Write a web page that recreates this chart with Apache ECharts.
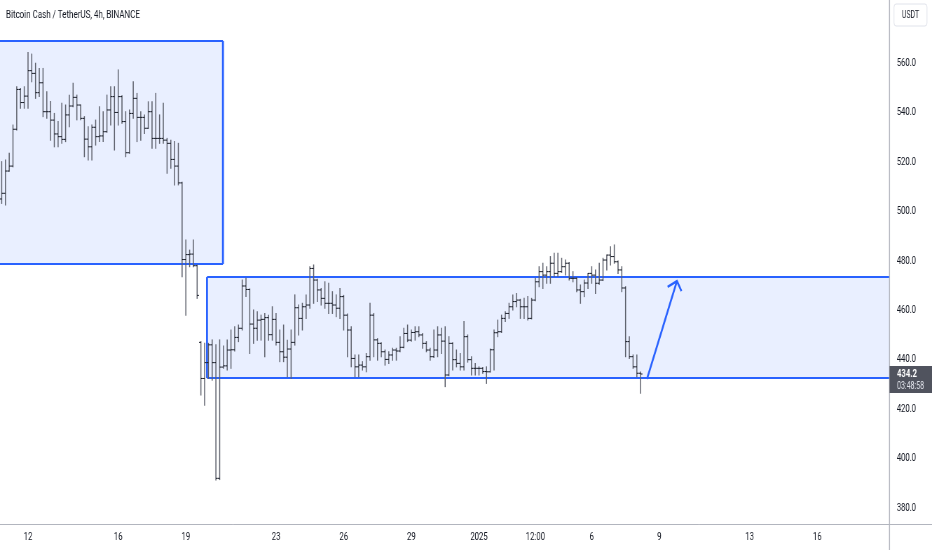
<!DOCTYPE html>
<html>
<head>
<meta charset="utf-8">
<script src="https://cdn.jsdelivr.net/npm/echarts@6/dist/echarts.min.js"></script>
<style>
html,body{margin:0;padding:0;overflow:hidden;background:#fff;width:932px;height:550px}
#wrap{width:932px;height:550px;overflow:hidden;position:relative}
#chart{width:1330px;height:550px;position:absolute;left:0;top:0;transform-origin:0 0;transform:scaleX(0.700752)}
</style>
</head>
<body>
<div id="wrap"><div id="chart"></div></div>
<script>
// ---------- data ----------
const title = 'Bitcoin Cash / TetherUS, 4h, BINANCE';
const quoteCurrency = 'USDT';
const countdown = '03:48:58';
// first bar opens 2024-12-10 20:00; x values are hours relative to 2024-12-12 00:00
const startHour = -28;
const barHours = 4;

const opens = [505,507.3,516.3,518.3,533.2,549.3,544,546.6,556.9,555.8,
548,552,540.3,540.3,536.9,531.3,530.2,529.1,539,542.6,
546.1,543,537.6,529.2,526.1,534,530.2,530.5,532.2,541,
546.4,540,546.4,536.3,523.7,539.6,545.7,538,538,533.6,
540.3,529.5,529.5,529.5,528.8,527.5,521,518.3,511.5,480.5,
482.5,482.7,478,447,432.4,438.8,446,438.8,392,437,
437.5,443.9,444,449,452.7,469.8,468.4,454.4,452.7,456,
456.3,457,450.1,456.3,447,443.2,441,444.3,447,461,
456.7,461.4,462.1,476.9,472.2,468.2,464.8,462.8,462.8,462.1,
460.8,465.5,458,452,440.5,437.1,437.8,437.1,441.2,458,
448,446.6,443.2,440.1,441.9,443.9,443.5,445,450.6,447.9,
451,451.3,450,446.6,443.9,441.2,443.9,450,447.5,433.8,
446.6,440,438.5,437.1,449.3,440,436.5,436.5,436.5,435.2,
435.1,444,450.9,451.3,456.7,458.7,461.4,463.5,464.1,461.4,
461.4,456.7,464.1,471.5,475.6,474.2,475.6,479,474.9,475.6,
477.6,479,472.9,472.9,468.2,467.5,471,474.9,474.2,470.9,
472.2,480.3,482.3,481.7,479.6,476.3,469,447.3,441.2,437.1,
434.5];
const highs = [520.1,520.8,523.5,534.9,550.4,549.7,550.4,564.2,563.6,559.9,
557.8,557.8,548.4,544.4,539.6,536.3,543.7,543,547,551.8,
547,543,538.3,534.2,534.9,536.9,542.3,540.3,547,550.4,
550.4,557.2,546.8,540.3,541,552.4,547.7,540.3,539,544.3,
544.3,547.7,539,543.7,529.5,528.8,528.2,527.5,511.8,488.4,
484.3,488.4,478.3,447.3,446.6,446.6,448,446,448,445.5,
448,452,453.3,454,472.2,472.9,468.6,460.1,459.4,458,
458.7,458,461.4,458.7,452,454,447.9,452,466.2,462.1,
462.8,466.2,477.6,478.3,472.5,468.8,471.5,470.9,467.5,466.2,
468.8,466,458.5,453.3,441.9,441.9,439.2,442.5,462.8,458.7,
448.5,446.8,443.9,443.2,444.6,444.6,449.3,452.7,454,452,
453.3,453.3,450.6,447.3,444.6,452,453.3,452.7,453.3,449.3,
446.8,443.9,442.5,455.4,450,441.2,438.5,437.1,436.8,437.1,
444.3,452,456,458,459.4,462.8,466.2,466.8,464.4,464.8,
465.5,464.8,472.9,477.6,479,477.6,481.7,483,483,481,
480.3,479.3,475.6,473.2,470.2,472.2,474.9,477.6,476.3,479,
481,482.3,485.7,486.4,479.9,477.6,469.5,449.3,441.9,441.9,
435];
const lows = [503.2,502.6,516.2,518,532.9,541.7,541.7,541.7,552.4,545.7,
546.4,538.3,537.6,528.8,526.1,526.1,527.5,528.2,534.2,542.3,
537,537,522.1,520.8,520.8,526.8,528.2,528.2,532,534.9,
524.8,534.9,535.6,522.1,523.5,537.6,528.2,528.8,531.5,533.5,
525.5,525.5,527.5,527.5,515.4,517.4,510.7,510.7,473.5,458,
477.6,477.6,464.8,425.7,421.6,432.4,431.7,391.3,391.5,436.5,
435.8,436.5,443.5,447.3,452,465.5,442.5,446.6,447.9,447.9,
441.2,447.9,447.9,445.9,439.2,439.2,433.1,432.4,445.9,450,
452,456.7,460.8,462.8,463.5,462.1,460.8,458.7,458.7,457.4,
456.7,452,441.2,437.1,433.1,433.1,435.8,435.1,439.8,441.2,
439.8,441.2,437.8,438.5,439.8,439.8,443.2,444.8,447.3,447.5,
447.9,449.3,444.6,443.2,439.8,440.9,441.2,442.5,429.1,433.5,
435.8,437.1,435.8,435.8,439,433.8,433.8,433.8,434.5,430.4,
435,435.8,449.3,451,455.4,456.7,460.1,461.4,456.7,456.7,
456,456.5,463.8,469.5,468.8,470.9,470.9,473.6,473.6,475.3,
474.2,472.2,471.5,467.5,462.8,465.5,468.8,470.9,466.8,470.5,
472,476.3,478.3,479,474.9,467.5,441.2,440.5,436.5,433.1,
426.4];
const closes = [507.3,516.3,518.3,533.2,549.3,544,546.6,556.9,555.8,548,
552,540.3,540.3,536.9,531.3,530.2,529.1,539,542.6,546.1,
543,537.6,529.2,526.1,534,530.2,530.5,532.2,541,546.4,
540,546.4,536.3,523.7,539.6,545.7,538,538,533.6,540.3,
529.5,529.5,529.5,528.8,527.5,521,518.3,511.5,480.5,482.5,
482.7,478,466,432.4,438.8,446,438.8,392,437,437.5,
443.9,444,449,452.7,469.8,468.4,454.4,452.7,456,456.3,
457,450.1,456.3,447,443.2,441,444.3,447,461,456.7,
461.4,462.1,476.9,472.2,468.2,464.8,462.8,462.8,462.1,460.8,
465.5,458,452,440.5,437.1,437.8,437.1,441.2,458,448,
446.6,443.2,440.1,441.9,443.9,443.5,445,450.6,447.9,451,
451.3,450,446.6,443.9,441.2,443.9,450,447.5,433.8,446.6,
440,438.5,437.1,449.3,440,436.5,436.5,436.5,435.2,435.1,
444,450.9,451.3,456.7,458.7,461.4,463.5,464.1,461.4,461.4,
456.7,464.1,471.5,475.6,474.2,475.6,479,474.9,475.6,477.6,
479,472.9,472.9,468.2,467.5,471,474.9,474.2,470.9,472.2,
480.3,482.3,481.7,479.6,476.3,469,447.3,441.2,437.1,434.5,
434.2];

// x-axis ticks (hours from 2024-12-12 00:00) and their labels
const xTickHours = [0,96,168,264,336,408,480,540,600,672,768,840];
const xTickLabels = ['12','16','19','23','26','29','2025','12:00','6','9','13','16'];
// y-axis ticks
const yTicks = [380,400,420,440,460,480,500,520,540,560];

// drawn zones (rectangles): start/end in hours, top/bottom in price
const zoneStart  = [-80, 190.5];
const zoneEnd    = [207.5, 1100];
const zoneTop    = [568.9, 473.4];
const zoneBottom = [478.7, 432.6];
// projection arrow
const arrowFrom = [658.8, 432.2];
const arrowTo   = [690.7, 471.8];

// ---------- view ----------
const W = 1330, H = 550;
const SX = 932 / W;            // horizontal squeeze of the whole page
const X_MIN = -29.8, X_MAX = 916.4;
const Y_MIN = 373.53, Y_MAX = 585.48;
const FONT = 'Roboto, "Noto Sans", sans-serif';
const TEXT = '#131722';
const BAR_STEM = '#5d606b';
const BAR_TICK = '#131722';
const ZONE_FILL = 'rgba(41,98,255,0.10)';
const ZONE_LINE = '#2962ff';
const AXIS_LINE = '#b2b5be';

const chart = echarts.init(document.getElementById('chart'), null, {renderer:'canvas', width: W, height: H});

const ohlc = opens.map((o, i) => [startHour + barHours * i, o, highs[i], lows[i], closes[i]]);
const zones = zoneStart.map((s, i) => [s, zoneEnd[i], zoneTop[i], zoneBottom[i]]);

function renderBar(params, api) {
  const x = api.value(0);
  const po = api.coord([x, api.value(1)]);
  const ph = api.coord([x, api.value(2)]);
  const pl = api.coord([x, api.value(3)]);
  const pc = api.coord([x, api.value(4)]);
  const cx = ph[0];
  const w = 2.6;
  return {
    type: 'group',
    children: [
      {type: 'line', shape: {x1: cx, y1: ph[1] - 0.5, x2: cx, y2: pl[1] + 0.5}, style: {stroke: BAR_STEM, lineWidth: 1.5}},
      {type: 'line', shape: {x1: cx - w, y1: po[1], x2: cx, y2: po[1]}, style: {stroke: BAR_TICK, lineWidth: 1}},
      {type: 'line', shape: {x1: cx, y1: pc[1], x2: cx + w, y2: pc[1]}, style: {stroke: BAR_TICK, lineWidth: 1}}
    ]
  };
}

function renderZone(params, api) {
  const a = api.coord([api.value(0), api.value(2)]);
  const b = api.coord([api.value(1), api.value(3)]);
  const x0 = a[0], y0 = a[1], x1 = b[0], y1 = b[1];
  return {
    type: 'group',
    children: [
      {type: 'rect', shape: {x: x0, y: y0, width: x1 - x0, height: y1 - y0}, style: {fill: ZONE_FILL}},
      {type: 'line', shape: {x1: x0, y1: y0, x2: x1, y2: y0}, style: {stroke: ZONE_LINE, lineWidth: 2}},
      {type: 'line', shape: {x1: x0, y1: y1, x2: x1, y2: y1}, style: {stroke: ZONE_LINE, lineWidth: 2}},
      {type: 'line', shape: {x1: x0, y1: y0, x2: x0, y2: y1}, style: {stroke: ZONE_LINE, lineWidth: 2.8}},
      {type: 'line', shape: {x1: x1, y1: y0, x2: x1, y2: y1}, style: {stroke: ZONE_LINE, lineWidth: 2.8}}
    ]
  };
}

function renderArrow(params, api) {
  const p0 = api.coord([api.value(0), api.value(1)]);
  const p1 = api.coord([api.value(2), api.value(3)]);
  const ax = p0[0] * SX, ay = p0[1], bx = p1[0] * SX, by = p1[1];
  const back = Math.atan2(ay - by, ax - bx);
  const L = 11, spread = 0.72;
  const arms = [-1, 1].map(s => [(bx + L * Math.cos(back + s * spread)) / SX, by + L * Math.sin(back + s * spread)]);
  return {
    type: 'group',
    children: [
      {type: 'line', shape: {x1: p0[0], y1: p0[1], x2: p1[0], y2: p1[1]}, style: {stroke: ZONE_LINE, lineWidth: 2.6}},
      {type: 'polyline', shape: {points: [arms[0], [p1[0], p1[1]], arms[1]]}, style: {stroke: ZONE_LINE, lineWidth: 2.6, fill: null}}
    ]
  };
}

chart.setOption({
  animation: false,
  backgroundColor: '#ffffff',
  grid: {left: 0, right: (932 - 889) / SX, top: 0, bottom: 26},
  xAxis: {
    type: 'value', min: X_MIN, max: X_MAX,
    axisLine: {show: false}, axisTick: {show: false}, splitLine: {show: false},
    axisLabel: {
      customValues: xTickHours,
      formatter: v => xTickLabels[xTickHours.indexOf(v)] || '',
      color: TEXT, fontSize: 11, fontFamily: FONT, margin: 8
    }
  },
  yAxis: {
    type: 'value', position: 'right', min: Y_MIN, max: Y_MAX, scale: true,
    axisLine: {show: false}, axisTick: {show: false}, splitLine: {show: false},
    axisLabel: {
      customValues: yTicks,
      formatter: v => v.toFixed(1),
      color: TEXT, fontSize: 11, fontFamily: FONT, margin: 11
    }
  },
  series: [
    {type: 'custom', name: 'zones', renderItem: renderZone, data: zones, encode: {x: [0, 1], y: [2, 3]}, clip: true, z: 1, silent: true},
    {type: 'custom', name: 'BCHUSDT', renderItem: renderBar, data: ohlc, encode: {x: 0, y: [1, 2, 3, 4]}, clip: true, z: 2},
    {type: 'custom', name: 'arrow', renderItem: renderArrow, data: [[arrowFrom[0], arrowFrom[1], arrowTo[0], arrowTo[1]]], encode: {x: [0, 2], y: [1, 3]}, clip: true, z: 3, silent: true}
  ]
});

// overlay: separators, title, currency tag, last price label
const lastClose = closes[closes.length - 1];
const py = chart.convertToPixel({yAxisIndex: 0}, lastClose);
const sepX = 889.5 / SX;
chart.setOption({
  graphic: [
    {type: 'line', z: 50, shape: {x1: sepX, y1: 0, x2: sepX, y2: H}, style: {stroke: AXIS_LINE, lineWidth: 1 / SX}},
    {type: 'line', z: 50, shape: {x1: 0, y1: 524.5, x2: W, y2: 524.5}, style: {stroke: AXIS_LINE, lineWidth: 1}},
    {type: 'text', z: 50, x: 6 / SX, y: 15, style: {text: title, font: '11.4px ' + FONT, fill: TEXT, verticalAlign: 'middle', align: 'left'}},
    {type: 'rect', z: 50, shape: {x: 894 / SX, y: 4, width: 33 / SX, height: 22, r: 3}, style: {fill: '#ffffff', stroke: '#e0e3eb', lineWidth: 1}},
    {type: 'text', z: 51, x: 910.5 / SX, y: 15, style: {text: quoteCurrency, font: '10px ' + FONT, fill: TEXT, verticalAlign: 'middle', align: 'center'}},
    {type: 'rect', z: 52, shape: {x: sepX, y: py - 8, width: W - sepX, height: 27}, style: {fill: '#50535e'}},
    {type: 'text', z: 53, x: 897 / SX, y: py, style: {text: lastClose.toFixed(1), font: 'bold 11px ' + FONT, fill: '#ffffff', verticalAlign: 'middle', align: 'left'}},
    {type: 'text', z: 53, x: 897 / SX, y: py + 12, style: {text: countdown, font: '10px ' + FONT, fill: '#e0e3eb', verticalAlign: 'middle', align: 'left'}}
  ]
});
</script>
</body>
</html>
